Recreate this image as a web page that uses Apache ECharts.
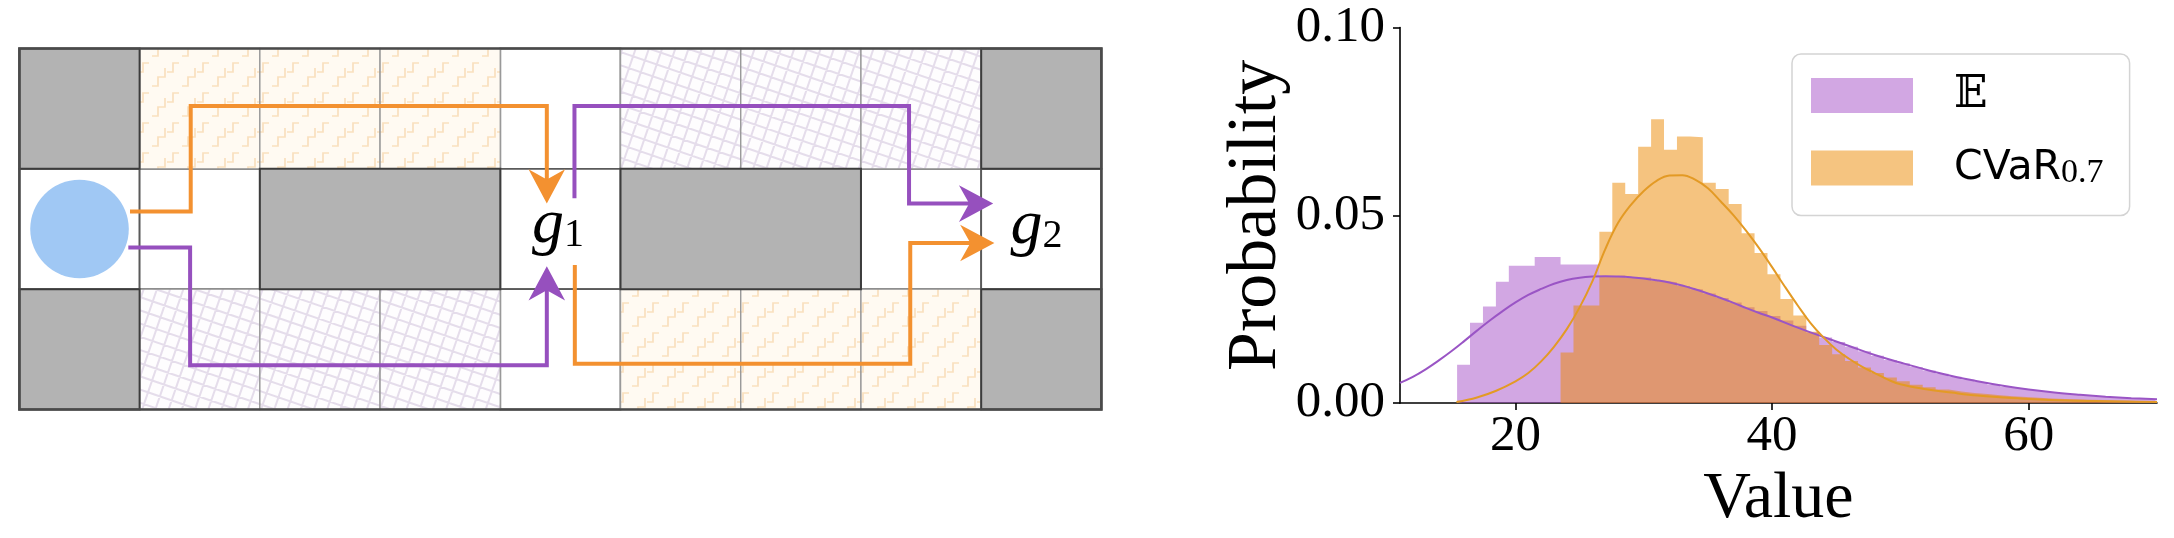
<!DOCTYPE html>
<html><head><meta charset="utf-8">
<script src="https://cdn.jsdelivr.net/npm/echarts@6/dist/echarts.min.js"></script>
<style>html,body{margin:0;padding:0;background:#fff}#c{width:2174px;height:538px}</style>
</head><body><div id="c"></div>
<script>
// ================= DATA =================
// --- grid world (9 columns x 3 rows, cell units, row 0 at top) ---
const wallBlocks   = [[0,0,1,1],[0,2,1,1],[2,1,2,1],[5,1,2,1],[8,0,1,1],[8,2,1,1]];
const whiteCells   = [[0,1],[1,1],[4,0],[4,1],[4,2],[7,1],[8,1]];
const orangeCells  = [[1,0],[2,0],[3,0],[5,2],[6,2],[7,2]];
const purpleCells  = [[1,2],[2,2],[3,2],[5,0],[6,0],[7,0]];
const agentCenter  = [0.5, 1.5];
const agentRadius  = 0.41;
const goalLabels   = [['g','1',4.48,1.47],['g','2',8.46,1.48]];
// paths (cell units)
const orangePathA = [[0.92,1.354],[1.425,1.354],[1.425,0.478],[4.387,0.478],[4.387,1.10]];
const purplePathA = [[0.906,1.654],[1.42,1.654],[1.42,2.633],[4.387,2.633],[4.387,2.00]];
const purplePathB = [[4.617,1.245],[4.617,0.478],[7.40,0.478],[7.40,1.289],[7.92,1.289]];
const orangePathB = [[4.62,1.80],[4.62,2.62],[7.41,2.62],[7.41,1.617],[7.93,1.617]];
// arrow heads: tip c, tip r, direction c, direction r, colour index (0 orange, 1 purple)
const arrowHeads = [[4.387,1.288,0,1,0],[4.387,1.81,0,-1,1],[8.10,1.289,1,0,1],[8.11,1.617,1,0,0]];

// --- histogram (Value vs Probability) ---
const binStart = 15.45, binWidth = 1.008;
const purpleHeights = [0.0102,0.0214,0.0257,0.0323,0.0366,0.0366,0.0389,0.0389,0.0369,0.0369,0.0369,
  0.0338,0.0340,0.0333,0.0335,0.0326,0.0322,0.0312,0.0303,0.0292,0.0280,0.0268,0.0255,0.0245,0.0232,0.0220,0.0206,0.0188,
  0.0175,0.0163,0.0150,0.0138,0.0126,0.0115,0.0106,0.0096,0.0087,0.0078,0.0070,0.0063,0.0056,0.0049,0.0043,0.0038,
  0.0033,0.0029,0.0025,0.0022,0.0019,0.0017,0.0015,0.0013,0.0011,0.0010];
const orangeStartBin = 8;
const orangeHeights = [0.0135,0.0260,0.0260,0.0456,0.0587,0.0557,0.0683,0.0756,0.0675,0.0710,0.0708,
  0.0587,0.0570,0.0530,0.0452,0.0400,0.0343,0.0277,0.0233,0.0190,0.0155,0.0130,0.0112,0.0095,0.0080,0.0068,
  0.0058,0.0049,0.0042,0.0036,0.0031,0.0027,0.0024,0.0021,0.0018,0.0016,0.0014,0.0012,0.0011,0.0010,0.0009,
  0.0008,0.0007,0.0006,0.0005,0.0005];
const purpleKde = [[11,0.0054],[12,0.0070],[13,0.0090],[14,0.0113],[15,0.0138],[16,0.0165],[17,0.0193],[18,0.0220],
  [19,0.0245],[20,0.0268],[21,0.0288],[22,0.0304],[23,0.0318],[24,0.0328],[25,0.0334],[26,0.0337],[27,0.0338],
  [28,0.0337],[29,0.0335],[30,0.0332],[31,0.0327],[32,0.0321],[33,0.0313],[34,0.0303],[35,0.0292],[36,0.0280],
  [37,0.0267],[38,0.0253],[39,0.0240],[40,0.0228],[42,0.0201],[44,0.0176],[46,0.0152],[48,0.0128],[50,0.0108],
  [52,0.0089],[54,0.0072],[56,0.0058],[58,0.0046],[60,0.0036],[62,0.0028],[64,0.0022],[66,0.0017],[68,0.0013],[70,0.0010]];
const orangeKde = [[15.4,0.0003],[17,0.0015],[18.5,0.0033],[20,0.0058],[21,0.0080],[22,0.0111],[23,0.0150],[24,0.0197],
  [25,0.0255],[26,0.0325],[27,0.0410],[28,0.0480],[29,0.0528],[30,0.0565],[31,0.0592],[32,0.0606],[33,0.0607],
  [34,0.0595],[35,0.0572],[36,0.0537],[37,0.0500],[38,0.0458],[39,0.0412],[40,0.0362],[41,0.0310],[42,0.0260],
  [43,0.0213],[44,0.0175],[45,0.0143],[46,0.0118],[47,0.0097],[48,0.0080],[49,0.0063],[50,0.0050],[52,0.0037],
  [54,0.0028],[56,0.0020],[58,0.0015],[60,0.0011],[63,0.0007],[66,0.0005],[70,0.0003]];
const xTickValues = [20, 40, 60];
const xRange = [11, 70];
const yRange = [0, 0.1];

// ================= STYLE HELPERS =================
const SERIF = "'Liberation Serif', 'DejaVu Serif', serif";
const ORANGE = '#f39130', PURPLE = '#9650be';

function makeOrangeHatch() {
  const cv = document.createElement('canvas'); cv.width = 30; cv.height = 30;
  const g = cv.getContext('2d');
  g.fillStyle = '#fffaf2'; g.fillRect(0, 0, 30, 30);
  g.strokeStyle = 'rgba(246,212,168,0.7)'; g.lineWidth = 1.7;
  g.beginPath();
  g.moveTo(2, 26); g.lineTo(8, 26); g.lineTo(8, 17); g.lineTo(15, 17); g.lineTo(15, 8);
  g.moveTo(17, 12); g.lineTo(23, 12); g.lineTo(23, 3); g.lineTo(29, 3);
  g.stroke();
  return cv;
}
function makePurpleHatch() {
  const cv = document.createElement('canvas'); cv.width = 1200; cv.height = 460;
  const g = cv.getContext('2d');
  g.fillStyle = '#fefdfe'; g.fillRect(0, 0, 1200, 460);
  g.strokeStyle = 'rgba(220,210,228,0.75)'; g.lineWidth = 2;
  g.translate(600, 230); g.rotate(0.33);
  g.beginPath();
  for (let k = -900; k <= 900; k += 12.5) { g.moveTo(k, -900); g.lineTo(k, 900); g.moveTo(-900, k); g.lineTo(900, k); }
  g.stroke();
  return cv;
}
const orangePattern = { image: makeOrangeHatch(), repeat: 'repeat' };
const purplePattern = { image: makePurpleHatch(), repeat: 'repeat' };
const cellStyles = [
  { fill: '#ffffff', stroke: '#5a5a5a', lineWidth: 1.8 },
  { fill: orangePattern, stroke: '#9a9a9a', lineWidth: 1.4 },
  { fill: purplePattern, stroke: '#9a9a9a', lineWidth: 1.4 },
  { fill: '#b3b3b3', stroke: '#3c3c3c', lineWidth: 2 },
  { fill: null, stroke: '#4a4a4a', lineWidth: 2.6 }
];

// ================= BUILD =================
const cellData = [].concat(
  whiteCells.map(([c, r]) => [c, r, 1, 1, 0]),
  orangeCells.map(([c, r]) => [c, r, 1, 1, 1]),
  purpleCells.map(([c, r]) => [c, r, 1, 1, 2]),
  wallBlocks.map(([c, r, w, h]) => [c, r, w, h, 3]),
  [[0, 0, 9, 3, 4]]
);
function histSteps(startBin, heights) {
  const pts = heights.map((h, i) => [binStart + (startBin + i) * binWidth, h]);
  pts.push([binStart + (startBin + heights.length) * binWidth, 0]);
  return pts;
}
function pathSeries(data, color) {
  return { type: 'line', xAxisIndex: 1, yAxisIndex: 1, data: data, showSymbol: false, symbol: 'none',
    silent: true, z: 5, lineStyle: { color: color, width: 4, cap: 'butt', join: 'miter' } };
}

const chart = echarts.init(document.getElementById('c'), null, { renderer: 'canvas' });
chart.setOption({
  animation: false,
  backgroundColor: '#ffffff',
  grid: [
    { left: 1400, top: 27.6, width: 757, height: 381.4 },
    { left: 19.4, top: 48.5, width: 1082, height: 361 }
  ],
  xAxis: [
    { gridIndex: 0, type: 'value', min: xRange[0], max: xRange[1],
      axisLine: { show: true, lineStyle: { color: '#000', width: 1.6 } },
      axisTick: { show: true, length: 7, customValues: xTickValues, lineStyle: { color: '#000', width: 1.6 } },
      axisLabel: { customValues: xTickValues, fontFamily: SERIF, fontSize: 51, color: '#000', margin: 8 },
      splitLine: { show: false },
      name: 'Value', nameLocation: 'middle', nameGap: 57,
      nameTextStyle: { fontFamily: SERIF, fontSize: 66, color: '#000' } },
    { gridIndex: 1, type: 'value', min: 0, max: 9, show: false }
  ],
  yAxis: [
    { gridIndex: 0, type: 'value', min: yRange[0], max: yRange[1], interval: 0.05,
      axisLine: { show: true, lineStyle: { color: '#000', width: 1.6 } },
      axisTick: { show: true, length: 7, lineStyle: { color: '#000', width: 1.6 } },
      axisLabel: { formatter: v => v.toFixed(2), fontFamily: SERIF, fontSize: 51, color: '#000', margin: 15 },
      splitLine: { show: false },
      name: 'Probability', nameLocation: 'middle', nameGap: 92, nameRotate: 90,
      nameTextStyle: { fontFamily: SERIF, fontSize: 70, color: '#000' } },
    { gridIndex: 1, type: 'value', min: 0, max: 3, inverse: true, show: false }
  ],
  legend: {
    orient: 'vertical', left: 1792, top: 54,
    padding: [19.5, 26, 25.5, 19],
    itemWidth: 102, itemHeight: 35, itemGap: 30,
    backgroundColor: 'rgba(255,255,255,0.85)', borderColor: '#d4d4d4', borderWidth: 1.5, borderRadius: 9,
    selectedMode: false,
    data: [
      { name: 'E', icon: 'rect', itemStyle: { color: '#d2a7e3', opacity: 1, borderWidth: 0 } },
      { name: 'CVaR', icon: 'rect', itemStyle: { color: '#f5c480', opacity: 1, borderWidth: 0 } }
    ],
    formatter: name => name === 'E' ? '{p|}{e|\uD835\uDD3C}' : '{p|}{c|CVaR}{s|0.7}',
    textStyle: {
      rich: {
        p: { width: 36, lineHeight: 44 },
        e: { fontFamily: "'DejaVu Serif', 'DejaVu Sans', serif", fontSize: 44, lineHeight: 44, color: '#000' },
        c: { fontFamily: "'DejaVu Sans', sans-serif", fontSize: 41, lineHeight: 44, color: '#000' },
        s: { fontFamily: SERIF, fontSize: 34, lineHeight: 18, verticalAlign: 'bottom', color: '#000' }
      }
    }
  },
  series: [
    // ---------- right: histograms + kde ----------
    { name: 'E', type: 'line', xAxisIndex: 0, yAxisIndex: 0, step: 'end', data: histSteps(0, purpleHeights),
      showSymbol: false, symbol: 'none', silent: true, z: 1,
      itemStyle: { color: '#d2a7e3' }, lineStyle: { width: 0, opacity: 0 },
      areaStyle: { color: '#a550c8', opacity: 0.5 } },
    { name: 'CVaR', type: 'line', xAxisIndex: 0, yAxisIndex: 0, step: 'end', data: histSteps(orangeStartBin, orangeHeights),
      showSymbol: false, symbol: 'none', silent: true, z: 2,
      itemStyle: { color: '#f5c480' }, lineStyle: { width: 0, opacity: 0 },
      areaStyle: { color: '#eb8700', opacity: 0.5 } },
    { name: 'kdeE', type: 'line', xAxisIndex: 0, yAxisIndex: 0, data: purpleKde, smooth: 0.4,
      showSymbol: false, symbol: 'none', silent: true, z: 3,
      lineStyle: { color: '#9a55c5', width: 2 } },
    { name: 'kdeCVaR', type: 'line', xAxisIndex: 0, yAxisIndex: 0, data: orangeKde, smooth: 0.4,
      showSymbol: false, symbol: 'none', silent: true, z: 4,
      lineStyle: { color: '#e39a25', width: 2 } },
    // ---------- left: grid world ----------
    { type: 'custom', xAxisIndex: 1, yAxisIndex: 1, data: cellData, silent: true, z: 1, clip: false,
      renderItem: (params, api) => {
        const c = api.value(0), r = api.value(1), w = api.value(2), h = api.value(3), k = api.value(4);
        const p0 = api.coord([c, r]), p1 = api.coord([c + w, r + h]);
        const st = cellStyles[k];
        return { type: 'rect', shape: { x: p0[0], y: p0[1], width: p1[0] - p0[0], height: p1[1] - p0[1] },
          style: { fill: st.fill, stroke: st.stroke, lineWidth: st.lineWidth } };
      } },
    { type: 'custom', xAxisIndex: 1, yAxisIndex: 1, data: [[agentCenter[0], agentCenter[1], agentRadius]], silent: true, z: 3,
      renderItem: (params, api) => {
        const p = api.coord([api.value(0), api.value(1)]);
        const rad = api.size([api.value(2), 0])[0];
        return { type: 'circle', shape: { cx: p[0], cy: p[1], r: rad }, style: { fill: '#a0c8f4' } };
      } },
    pathSeries(orangePathA, ORANGE),
    pathSeries(purplePathA, PURPLE),
    pathSeries(purplePathB, PURPLE),
    pathSeries(orangePathB, ORANGE),
    { type: 'custom', xAxisIndex: 1, yAxisIndex: 1, data: arrowHeads, silent: true, z: 6, clip: false,
      renderItem: (params, api) => {
        const tc = api.value(0), tr = api.value(1), dc = api.value(2), dr = api.value(3);
        const L = 0.285, W = 0.152, N = 0.2;
        const nc = -dr, nr = dc;
        const pts = [
          [tc, tr],
          [tc - L * dc + W * nc, tr - L * dr + W * nr],
          [tc - N * dc, tr - N * dr],
          [tc - L * dc - W * nc, tr - L * dr - W * nr]
        ].map(p => api.coord(p));
        return { type: 'polygon', shape: { points: pts }, style: { fill: api.value(4) === 0 ? ORANGE : PURPLE } };
      } },
    { type: 'custom', xAxisIndex: 1, yAxisIndex: 1, data: goalLabels.map(g => [g[2], g[3], g[0], g[1]]),
      dimensions: ['c', 'r', { name: 'main', type: 'ordinal' }, { name: 'sub', type: 'ordinal' }],
      silent: true, z: 7, clip: false,
      renderItem: (params, api) => {
        const item = goalLabels[params.dataIndex];
        const p = api.coord([item[2], item[3]]);
        return { type: 'text', style: {
          x: p[0], y: p[1], align: 'center', verticalAlign: 'middle',
          text: '{g|' + item[0] + '}{s|' + item[1] + '}',
          rich: {
            g: { fontFamily: SERIF, fontStyle: 'italic', fontSize: 64, lineHeight: 60, fill: '#000' },
            s: { fontFamily: SERIF, fontSize: 40, lineHeight: 18, verticalAlign: 'bottom', fill: '#000' }
          } } };
      } }
  ]
});
</script>
</body></html>
